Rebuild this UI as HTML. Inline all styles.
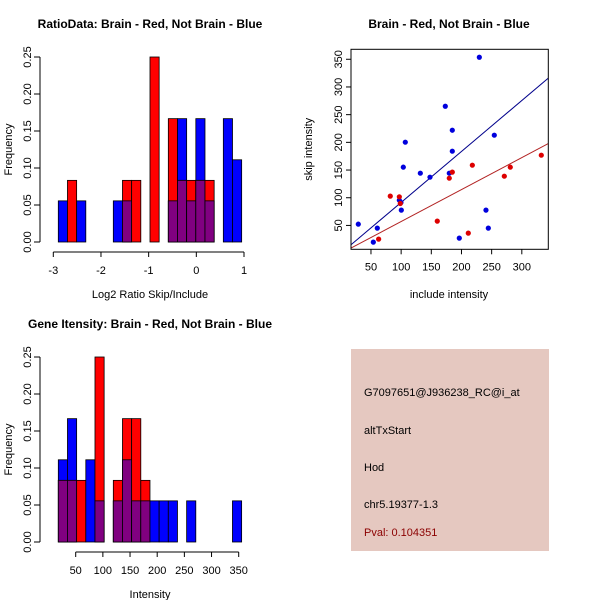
<!DOCTYPE html>
<html><head><meta charset="utf-8"><style>
body{margin:0;background:#fff;}
svg{display:block;font-family:"Liberation Sans",sans-serif;}
</style></head><body>
<svg id="c" width="600" height="600" viewBox="0 0 600 600">
<rect width="600" height="600" fill="#fff"/>
<g id="g1"></g>
<g id="g2"></g>
<g id="g3"></g>
<g>
<rect x="351" y="349" width="198" height="202" fill="#e5c8c0"/>
<text x="364" y="396" font-size="11" fill="#000">G7097651@J936238_RC@i_at</text>
<text x="364" y="434" font-size="11" fill="#000">altTxStart</text>
<text x="364" y="471" font-size="11" fill="#000">Hod</text>
<text x="364" y="508" font-size="11" fill="#000">chr5.19377-1.3</text>
<text x="364" y="536" font-size="11" fill="#8b0000">Pval: 0.104351</text>
</g>
</svg>
<script>
// Ratio histogram data (20 bins)
const ratioBinStart = -2.895;
const ratioBinWidth = 0.1923;
const ratioRed = [0,0.0833,0,0,0,0,0,0.0833,0.0833,0,0.25,0,0.1667,0.0833,0.0833,0.0833,0.0833,0,0,0];
const ratioBlue = [0.0556,0,0.0556,0,0,0,0.0556,0.0556,0,0,0,0,0.0556,0.1667,0.0556,0.1667,0.0556,0,0.1667,0.1111];
const ratioXTicks = [-3,-2,-1,0,1];
const freqTicks = [0,0.05,0.1,0.15,0.2,0.25];
// Gene intensity histogram data
const intBinStart = 18;
const intBinWidth = 16.87;
const intRed = [0.0833,0.0833,0.0833,0,0.25,0,0.0833,0.1667,0.1667,0.0833,0,0,0,0,0,0,0,0,0,0];
const intBlue = [0.1111,0.1667,0,0.1111,0.0556,0,0.0556,0.1111,0.0556,0.0556,0.0556,0.0556,0.0556,0,0.0556,0,0,0,0,0.0556];
const intXTicks = [50,100,150,200,250,300,350];
// Scatter data
const blueX = [229.6,173.2,184.8,254.4,106.9,184.8,103.6,131.8,147.8,179.8,97.0,99.7,100.3,29.0,60.5,53.9,196.4,240.6,244.5];
const blueY = [353.6,265.2,221.9,212.9,200.3,184.0,155.2,144.3,137.1,144.3,95.6,91.4,77.6,52.3,45.1,19.9,27.1,77.6,45.1];
const redX = [332.3,280.9,271.0,218.0,184.8,179.8,82.0,97.0,98.6,159.9,211.3,62.7];
const redY = [176.8,155.2,138.9,158.8,146.2,135.3,102.9,101.7,89.6,57.8,36.1,25.3];
const blueFit = [-0.45,0.92];
const redFit = [-0.65,0.577];
const scXTicks = [50,100,150,200,250,300];
const scYTicks = [50,100,150,200,250,300,350];

const NS="http://www.w3.org/2000/svg";
function el(p,t,a,txt){const e=document.createElementNS(NS,t);for(const k in a)e.setAttribute(k,a[k]);if(txt!==undefined)e.textContent=txt;p.appendChild(e);return e;}

function hist(g,title,xlab,binStart,binW,red,blue,xTicks,xmin,xmax,px0,px1,tickDec){
  const by=242+ (g.id==='g3'?300:0), ty=57+(g.id==='g3'?300:0);
  const ys=v=>by-(v/0.25)*(by-ty);
  const xs=v=>px0+(v-xmin)/(xmax-xmin)*(px1-px0);
  let t=el(g,'text',{x:150,y:(g.id==='g3'?328:28),'font-size':12,'font-weight':'bold','text-anchor':'middle'},title);
  
  for(let i=0;i<red.length;i++){
    const x0=xs(binStart+i*binW),x1=xs(binStart+(i+1)*binW);
    const r=red[i],b=blue[i],m=Math.min(r,b);
    if(b>0){const e=el(g,'rect',{x:x0,y:ys(b),width:x1-x0,height:by-ys(b),fill:'#0000ff',stroke:'#000','stroke-width':0.8});
      }
    if(r>0){const e=el(g,'rect',{x:x0,y:ys(r),width:x1-x0,height:by-ys(r),fill:'#ff0000',stroke:'#000','stroke-width':0.8});
      }
    if(m>0){const e=el(g,'rect',{x:x0,y:ys(m),width:x1-x0,height:by-ys(m),fill:'#800080',stroke:'#000','stroke-width':0.8});
      }
  }
  // y axis
  let a=el(g,'line',{x1:40,x2:40,y1:ys(0),y2:ys(0.25),stroke:'#000'});
  
  freqTicks.forEach(v=>{el(g,'line',{x1:34,x2:40,y1:ys(v),y2:ys(v),stroke:'#000'});
    const l=el(g,'text',{x:0,y:0,'font-size':11,'text-anchor':'middle',transform:`translate(31,${ys(v)}) rotate(-90)`},v.toFixed(2));
    });
  const ax=by+10;
  a=el(g,'line',{x1:xs(xTicks[0]),x2:xs(xTicks[xTicks.length-1]),y1:ax,y2:ax,stroke:'#000'});
  
  xTicks.forEach(v=>{el(g,'line',{x1:xs(v),x2:xs(v),y1:ax,y2:ax+5,stroke:'#000'});
    const l=el(g,'text',{x:xs(v),y:ax+22,'font-size':11,'text-anchor':'middle'},String(v));
    });
  let l=el(g,'text',{x:150,y:by+56,'font-size':11,'text-anchor':'middle'},xlab);
  
  l=el(g,'text',{x:0,y:0,'font-size':11,'text-anchor':'middle',transform:`translate(12,${(by+ty)/2}) rotate(-90)`},'Frequency');
  
}
hist(document.getElementById('g1'),'RatioData: Brain - Red, Not Brain - Blue','Log2 Ratio Skip/Include',ratioBinStart,ratioBinWidth,ratioRed,ratioBlue,ratioXTicks,-3,1,53.3,244);
hist(document.getElementById('g3'),'Gene Itensity: Brain - Red, Not Brain - Blue','Intensity',intBinStart,intBinWidth,intRed,intBlue,intXTicks,50,350,75.7,238.7);

// scatter
(function(){
  const g=document.getElementById('g2');
  const L=351,R=548.3,T=49.3,B=249.3,x0=16.9,x1=343.9,y0=6.9,y1=368;
  const xs=v=>L+(v-x0)/(x1-x0)*(R-L), ys=v=>B-(v-y0)/(y1-y0)*(B-T);
  let t=el(g,'text',{x:449,y:28,'font-size':12,'font-weight':'bold','text-anchor':'middle'},'Brain - Red, Not Brain - Blue');
  
  const cp=el(g,'clipPath',{id:'cp'});el(cp,'rect',{x:L,y:T,width:R-L,height:B-T});
  [[blueFit,'#00008b','fit-line-blue'],[redFit,'#b22222','fit-line-red']].forEach(([f,c,n])=>{
    const e=el(g,'line',{x1:xs(x0),y1:ys(f[0]+f[1]*x0),x2:xs(x1),y2:ys(f[0]+f[1]*x1),stroke:c,'stroke-width':1,'clip-path':'url(#cp)'});
    });
  blueX.forEach((v,i)=>{const e=el(g,'circle',{cx:xs(v),cy:ys(blueY[i]),r:2.6,fill:'#0000dd'});
    });
  redX.forEach((v,i)=>{const e=el(g,'circle',{cx:xs(v),cy:ys(redY[i]),r:2.6,fill:'#dd0000'});
    });
  let b=el(g,'rect',{x:L,y:T,width:R-L,height:B-T,fill:'none',stroke:'#000'});
  
  scXTicks.forEach(v=>{el(g,'line',{x1:xs(v),x2:xs(v),y1:B,y2:B+5,stroke:'#000'});
    const l=el(g,'text',{x:xs(v),y:B+21,'font-size':11,'text-anchor':'middle'},String(v));
    });
  scYTicks.forEach(v=>{el(g,'line',{x1:L-5,x2:L,y1:ys(v),y2:ys(v),stroke:'#000'});
    const l=el(g,'text',{x:0,y:0,'font-size':11,'text-anchor':'middle',transform:`translate(${L-9},${ys(v)}) rotate(-90)`},String(v));
    });
  let l=el(g,'text',{x:449,y:298,'font-size':11,'text-anchor':'middle'},'include intensity');
  
  l=el(g,'text',{x:0,y:0,'font-size':11,'text-anchor':'middle',transform:`translate(312,${(T+B)/2}) rotate(-90)`},'skip intensity');
  
})();
</script>
</body></html>
